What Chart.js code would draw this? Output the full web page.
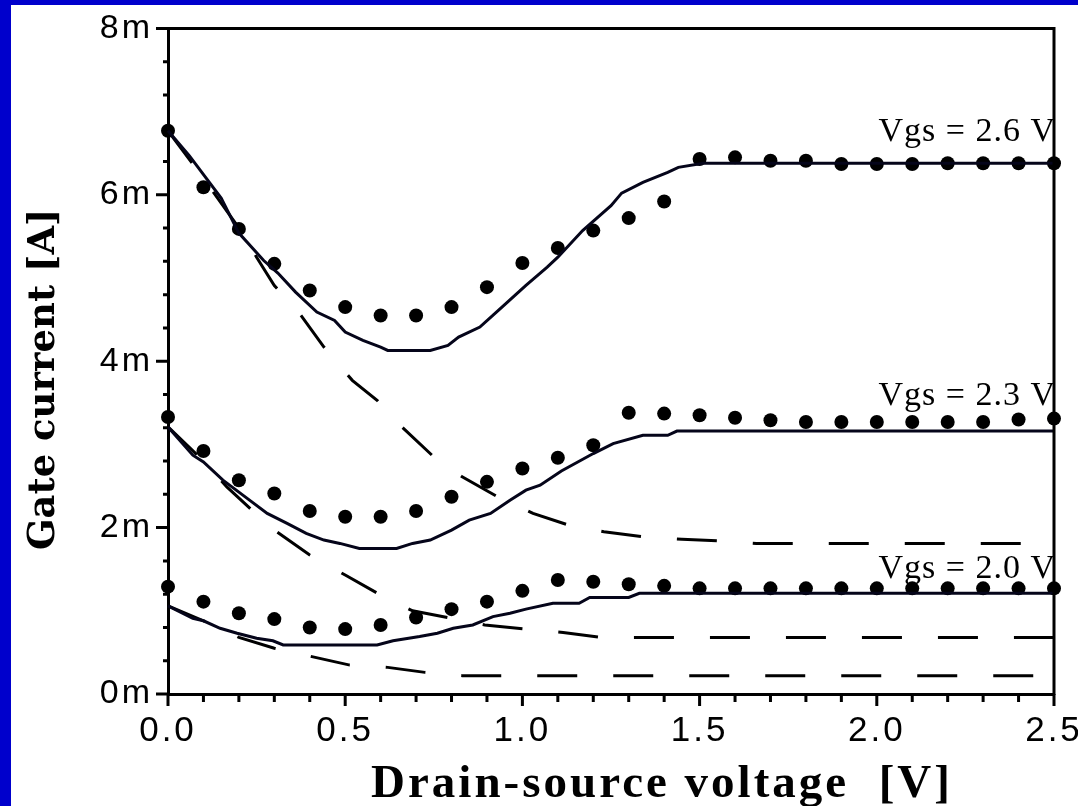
<!DOCTYPE html>
<html>
<head>
<meta charset="utf-8">
<script src="https://cdn.jsdelivr.net/npm/chart.js@4.4.1/dist/chart.umd.min.js"></script>
<style>
  html, body { margin: 0; padding: 0; background: #fff; overflow: hidden; }
  #frame { position: absolute; left: 0; top: 0; width: 1078px; height: 806px; background: #0000cc; overflow: hidden; }
  #wrap { position: absolute; left: 11px; top: 5px; width: 1090px; height: 801px; background: #fff; }
</style>
</head>
<body>
<div id="frame">
  <div id="wrap"><canvas id="chart" width="1090" height="801"></canvas></div>
</div>
<script>
// axis titles and curve labels
const xTitle = 'Drain-source voltage  [V]';
const yTitle = 'Gate current [A]';
const curveLabels = ['Vgs = 2.6 V', 'Vgs = 2.3 V', 'Vgs = 2.0 V'];
const curveLabelV = [2.5, 2.5, 2.5];
const curveLabelI = [6.65, 3.47, 1.39];

// measured points (dots), drain-source voltage in V, gate current in mA
const measV = [0.0, 0.1, 0.2, 0.3, 0.4, 0.5, 0.6, 0.7, 0.8, 0.9, 1.0, 1.1, 1.2,
               1.3, 1.4, 1.5, 1.6, 1.7, 1.8, 1.9, 2.0, 2.1, 2.2, 2.3, 2.4, 2.5];
const meas26 = [6.77, 6.09, 5.59, 5.17, 4.85, 4.65, 4.55, 4.55, 4.65, 4.89, 5.18, 5.36, 5.57,
                5.72, 5.92, 6.43, 6.45, 6.41, 6.41, 6.37, 6.37, 6.37, 6.38, 6.38, 6.38, 6.38];
const meas23 = [3.33, 2.92, 2.57, 2.41, 2.20, 2.13, 2.13, 2.20, 2.37, 2.55, 2.71, 2.84, 2.99,
                3.38, 3.37, 3.35, 3.32, 3.29, 3.27, 3.27, 3.27, 3.27, 3.27, 3.27, 3.30, 3.31];
const meas20 = [1.29, 1.11, 0.97, 0.90, 0.80, 0.78, 0.83, 0.92, 1.02, 1.11, 1.24, 1.37, 1.35,
                1.32, 1.30, 1.27, 1.27, 1.27, 1.27, 1.27, 1.27, 1.27, 1.27, 1.27, 1.27, 1.27];

// simulated (solid)
const sim26V = [0, 0.06, 0.15, 0.20, 0.27, 0.31, 0.36, 0.42, 0.47, 0.50, 0.55, 0.60, 0.62, 0.74, 0.79,
                0.82, 0.88, 0.94, 1.01, 1.07, 1.10, 1.17, 1.25, 1.28, 1.34, 1.41, 1.44, 1.51, 2.50];
const sim26I = [6.77, 6.47, 5.96, 5.54, 5.21, 5.06, 4.83, 4.59, 4.49, 4.35, 4.25, 4.17, 4.13, 4.13, 4.19,
                4.29, 4.41, 4.64, 4.91, 5.13, 5.25, 5.57, 5.87, 6.02, 6.15, 6.27, 6.33, 6.38, 6.38];
const sim23V = [0, 0.07, 0.10, 0.155, 0.23, 0.28, 0.336, 0.39, 0.44, 0.485, 0.54, 0.645, 0.69, 0.74,
                0.80, 0.85, 0.91, 0.965, 1.01, 1.05, 1.11, 1.20, 1.256, 1.34, 1.41, 1.436, 2.50];
const sim23I = [3.21, 2.87, 2.79, 2.57, 2.33, 2.17, 2.05, 1.93, 1.85, 1.81, 1.75, 1.75, 1.81, 1.85,
                1.97, 2.09, 2.17, 2.33, 2.45, 2.51, 2.68, 2.89, 3.01, 3.11, 3.11, 3.16, 3.16];
const sim20V = [0, 0.07, 0.10, 0.147, 0.195, 0.25, 0.296, 0.325, 0.59, 0.635, 0.71, 0.76, 0.805,
                0.86, 0.917, 0.965, 1.01, 1.086, 1.16, 1.19, 1.30, 1.33, 2.50];
const sim20I = [1.06, 0.91, 0.88, 0.79, 0.73, 0.67, 0.64, 0.59, 0.59, 0.64, 0.69, 0.73, 0.79,
                0.83, 0.93, 0.97, 1.02, 1.09, 1.09, 1.16, 1.16, 1.21, 1.21];

// second model (dashed)
const dash26V = [0, 0.10, 0.20, 0.25, 0.30, 0.37, 0.44, 0.52, 0.59, 0.66, 0.745, 0.83, 0.93,
                 1.03, 1.13, 1.23, 1.34, 1.45, 1.56, 1.66, 2.50];
const dash26I = [6.77, 6.20, 5.60, 5.25, 4.91, 4.58, 4.17, 3.77, 3.53, 3.21, 2.87, 2.61, 2.37,
                 2.17, 2.03, 1.95, 1.89, 1.86, 1.84, 1.81, 1.81];
const dash23V = [0, 0.10, 0.166, 0.237, 0.307, 0.40, 0.50, 0.60, 0.69, 0.80, 0.894, 1.01, 1.115, 1.22, 2.50];
const dash23I = [3.21, 2.80, 2.49, 2.21, 1.95, 1.67, 1.43, 1.19, 1.00, 0.91, 0.83, 0.78, 0.74, 0.68, 0.68];
const dash20V = [0, 0.10, 0.20, 0.30, 0.395, 0.51, 0.62, 0.725, 0.83, 2.50];
const dash20I = [1.06, 0.88, 0.68, 0.55, 0.46, 0.35, 0.32, 0.26, 0.22, 0.22];

const pts = (xs, ys) => xs.map((v, i) => ({ x: v, y: ys[i] }));

function solid(xs, ys) {
  return { data: pts(xs, ys), showLine: true, borderColor: '#05051a', borderWidth: 3,
           pointRadius: 0, tension: 0, clip: false };
}
function dashed(xs, ys) {
  return { data: pts(xs, ys), showLine: true, borderColor: '#000', borderWidth: 3,
           borderDash: [40, 36], pointRadius: 0, tension: 0, clip: false };
}
function dots(ys) {
  return { data: pts(measV, ys), showLine: false, pointRadius: 7, pointHoverRadius: 7,
           backgroundColor: '#000', borderColor: '#000', borderWidth: 0, clip: false };
}

const isMajorX = v => Math.round(v * 10) % 5 === 0;
const isMajorY = v => Math.round(v * 10) % 20 === 0;

// ticks, frame, titles and curve labels
const decor = {
  id: 'decor',
  beforeDraw(chart) {
    chart.ctx.letterSpacing = '3px';
  },
  afterDraw(chart) {
    const { ctx, chartArea: a } = chart;
    const xs = chart.scales.x, ys = chart.scales.y;
    ctx.save();
    ctx.strokeStyle = '#000';
    ctx.lineWidth = 3;
    ctx.beginPath();
    ctx.moveTo(a.left - 1, a.top);
    ctx.lineTo(a.right, a.top);
    ctx.lineTo(a.right, a.bottom + 1);
    ctx.stroke();

    ctx.beginPath();
    xs.ticks.forEach(t => {
      const px = xs.getPixelForValue(t.value);
      ctx.moveTo(px, a.bottom);
      ctx.lineTo(px, a.bottom + (isMajorX(t.value) ? 12 : 8));
    });
    ys.ticks.forEach(t => {
      const py = ys.getPixelForValue(t.value);
      ctx.moveTo(a.left, py);
      ctx.lineTo(a.left - (isMajorY(t.value) ? 12 : 5), py);
    });
    ctx.stroke();

    ctx.fillStyle = '#000';
    ctx.letterSpacing = '1px';
    ctx.font = '34px "Liberation Serif", "Times New Roman", serif';
    ctx.textAlign = 'right';
    ctx.textBaseline = 'alphabetic';
    curveLabels.forEach((s, i) => {
      ctx.fillText(s, xs.getPixelForValue(curveLabelV[i]) + 2, ys.getPixelForValue(curveLabelI[i]));
    });

    ctx.letterSpacing = '3px';
    ctx.font = 'bold 47px "Liberation Serif", "Times New Roman", serif';
    ctx.textAlign = 'center';
    ctx.fillText(xTitle, (a.left + a.right) / 2 + 51, 792);

    ctx.letterSpacing = '0px';
    ctx.translate(43, (a.top + a.bottom) / 2 + 18);
    ctx.rotate(-Math.PI / 2);
    ctx.font = 'bold 37px "DejaVu Serif", serif';
    ctx.fillText(yTitle, 0, 0);
    ctx.restore();
  }
};

new Chart(document.getElementById('chart'), {
  type: 'scatter',
  data: {
    datasets: [
      solid(sim26V, sim26I), solid(sim23V, sim23I), solid(sim20V, sim20I),
      dashed(dash26V, dash26I), dashed(dash23V, dash23I), dashed(dash20V, dash20I),
      dots(meas26), dots(meas23), dots(meas20)
    ]
  },
  options: {
    responsive: false,
    animation: false,
    events: [],
    layout: { padding: { top: 23, right: 47, left: 0, bottom: 0 } },
    plugins: { legend: { display: false }, tooltip: { enabled: false } },
    scales: {
      x: {
        type: 'linear', min: 0, max: 2.5,
        afterFit: s => { s.height = 112; },
        border: { display: true, color: '#000', width: 3 },
        grid: { display: true, drawOnChartArea: false, drawTicks: true, tickLength: 12, tickColor: 'rgba(0,0,0,0)' },
        ticks: {
          stepSize: 0.1, autoSkip: false, maxRotation: 0, padding: 4, color: '#000',
          font: { family: '"Liberation Sans", Arial, sans-serif', size: 35 },
          callback: v => isMajorX(v) ? v.toFixed(1) : ''
        }
      },
      y: {
        type: 'linear', min: 0, max: 8,
        afterFit: s => { s.width = 157; },
        border: { display: true, color: '#000', width: 3 },
        grid: { display: true, drawOnChartArea: false, drawTicks: true, tickLength: 12, tickColor: 'rgba(0,0,0,0)' },
        ticks: {
          stepSize: 0.4, autoSkip: false, padding: 3, color: '#000',
          font: { family: '"Liberation Sans", Arial, sans-serif', size: 34 },
          callback: v => isMajorY(v) ? Math.round(v) + 'm' : ''
        }
      }
    }
  },
  plugins: [decor]
});
</script>
</body>
</html>
